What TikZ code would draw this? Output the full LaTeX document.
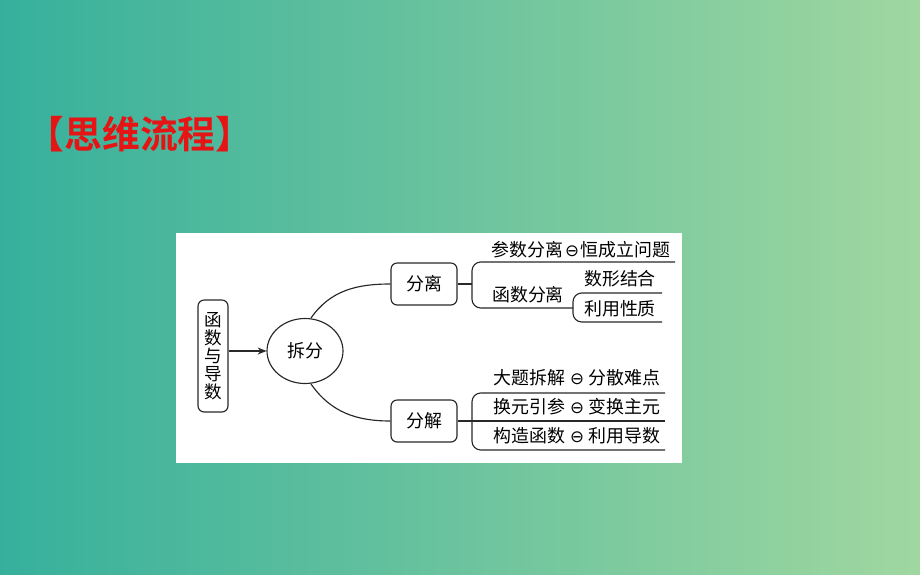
\documentclass[tikz,border=0pt]{standalone}
\usepackage{fontspec}
\setmainfont{Liberation Serif}
\newfontfamily\cjk{Noto Sans CJK SC}
\newfontfamily\cjkb{Noto Sans CJK SC Bold}
\newfontfamily\symf{DejaVu Sans}
\usetikzlibrary{shapes.geometric,arrows.meta}
\definecolor{bgl}{RGB}{54,176,156}
\definecolor{bgr}{RGB}{160,215,160}
\definecolor{ln}{RGB}{40,40,40}
\definecolor{titlered}{RGB}{230,20,20}
\newcommand{\mo}{\hspace{0.25em}{\symf\fontsize{9.5}{9.5}\selectfont ⊖}\hspace{0.25em}}
\newcommand{\mos}{\hspace{0.1em}{\symf\fontsize{9.5}{9.5}\selectfont ⊖}\hspace{0.1em}}
\tikzset{
  rbox/.style={draw=ln, line width=0.65pt, rounded corners=3.5pt, fill=white, inner sep=0pt},
  lbl/.style={font=\cjk\fontsize{10.2}{12}\selectfont, text=black, inner sep=0pt},
  wire/.style={draw=ln, line width=0.65pt},
}
\begin{document}
\begin{tikzpicture}[x=0.02cm,y=-0.02cm]
\shade[left color=bgl, right color=bgr] (0,0) rectangle (920,575);
\useasboundingbox (0,0) rectangle (920,575);
% title
\node[font=\cjkb\fontsize{21.5}{24}\selectfont, text=titlered, inner sep=0pt] (title) at (140,134) {【思维流程】};
% white panel
\fill[white] (176,233) rectangle (682,463);
% left box
\node[rbox, minimum width=30*0.02cm, minimum height=112*0.02cm] (hs) at (213,356) {};
\node[lbl, align=center, font=\cjk\fontsize{10}{10.2}\selectfont] (hst) at (213,356) {函\\数\\与\\导\\数};
% ellipse
\node[draw=ln, line width=0.65pt, ellipse, minimum width=76*0.02cm, minimum height=65*0.02cm, inner sep=0pt, fill=white] (cf) at (305,351) {};
\node[lbl] (cft) at (305,351) {拆分};
\draw[wire, -{Stealth[length=5pt,width=4pt]}] (hs.east |- cf.west) -- (cf.west);
% boxes
\node[rbox, minimum width=66*0.02cm, minimum height=42*0.02cm] (fl) at (424,284) {};
\node[lbl] (flt) at (424,284) {分离};
\node[rbox, minimum width=66*0.02cm, minimum height=42*0.02cm] (fj) at (424,421) {};
\node[lbl] (fjt) at (424,421) {分解};
% curves
\coordinate (ct) at (311,318);
\coordinate (cb) at (311,384);
\draw[wire] (ct) to[out=55,in=180] (fl.west);
\draw[wire] (cb) to[out=-55,in=180] (fj.west);
% upper bracket
\coordinate (u1) at (472,284);
\coordinate (ut) at (675,262);
\coordinate (ub) at (573,308);
\draw[wire] (fl.east) -- (u1);
\draw[wire, rounded corners=5pt] (ut) -- (472,262) -- (472,308) -- (ub);
\node[lbl] (t1) at (581,250) {参数分离\mos 恒成立问题};
\node[lbl] (t2) at (528,295) {函数分离};
\coordinate (st) at (662,293);
\coordinate (sb) at (662,322);
\draw[wire, rounded corners=5pt] (st) -- (573,293) -- (573,322) -- (sb);
\node[lbl] (t3) at (620,279) {数形结合};
\node[lbl] (t4) at (620,309) {利用性质};
% lower bracket
\coordinate (lt) at (665,393);
\coordinate (lm) at (665,421);
\coordinate (lb) at (665,450);
\draw[wire] (fj.east) -- (lm);
\draw[wire, rounded corners=5pt] (lt) -- (472,393) -- (472,450) -- (lb);
\node[lbl] (t5) at (577,378) {大题拆解\mo 分散难点};
\node[lbl] (t6) at (577,407) {换元引参\mo 变换主元};
\node[lbl] (t7) at (577,436) {构造函数\mo 利用导数};
\end{tikzpicture}
\end{document}
